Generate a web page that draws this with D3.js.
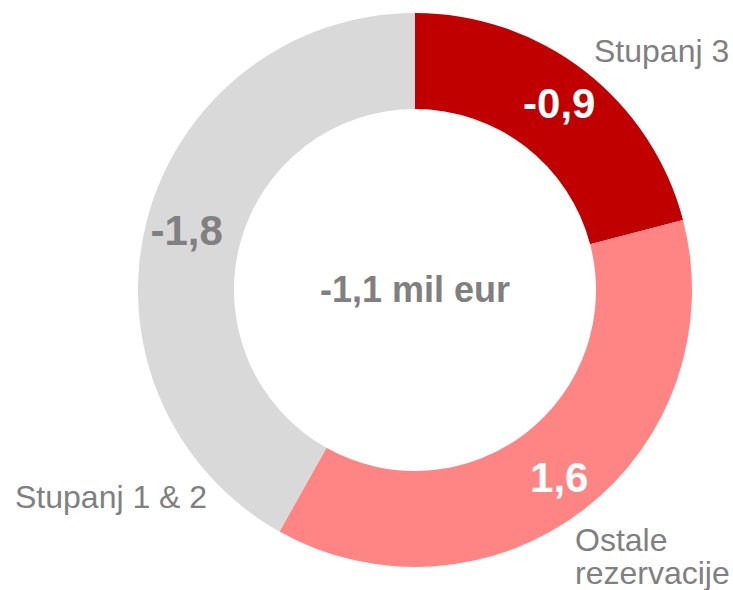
<!DOCTYPE html>
<html>
<head>
<meta charset="utf-8">
<script src="https://cdn.jsdelivr.net/npm/d3@7"></script>
<style>
  body { margin: 0; background: #fff; }
  text { font-family: "Liberation Sans", Arial, sans-serif; }
</style>
</head>
<body>
<div class="chart"></div>
<script>
// data
var categories = ["Stupanj 3", "Ostale rezervacije", "Stupanj 1 & 2"];
var values = [-0.9, 1.6, -1.8];
var totalLabel = "-1,1 mil eur";

var colors = ["#C00000", "#FF8585", "#D9D9D9"];
var valueColors = ["#ffffff", "#ffffff", "#808080"];

var svgWidth = 733;
var svgHeight = 590;
var cx = 415, cy = 290;
var outerR = 277, innerR = 181;

// where the category names sit (relative to centre)
var catPos = [
  { x: 179, y: -228, lines: ["Stupanj 3"] },
  { x: 160, y: 261, lines: ["Ostale", "rezervacije"] },
  { x: -400, y: 218, lines: ["Stupanj 1 & 2"] }
];

var svg = d3.select(".chart")
  .append("svg")
  .attr("width", svgWidth)
  .attr("height", svgHeight);

var g = svg.append("g")
  .attr("transform", `translate(${cx}, ${cy})`);

var slices = categories.map((c, i) => ({ name: c, value: values[i], idx: i }));

var pie = d3.pie()
  .sort(null)
  .value(d => Math.abs(d.value));

var arc = d3.arc()
  .innerRadius(innerR)
  .outerRadius(outerR);

var labelArc = d3.arc()
  .innerRadius(236)
  .outerRadius(236);

var arcs = pie(slices);

g.selectAll("path")
  .data(arcs)
  .enter()
  .append("path")
  .attr("d", arc)
  .attr("fill", d => colors[d.data.idx]);

// value labels inside the ring
g.selectAll(".val")
  .data(arcs)
  .enter()
  .append("text")
  .attr("class", "val")
  .attr("x", d => labelArc.centroid(d)[0])
  .attr("y", d => labelArc.centroid(d)[1])
  .attr("dy", "0.36em")
  .attr("text-anchor", "middle")
  .attr("font-size", 42)
  .attr("font-weight", "bold")
  .attr("fill", d => valueColors[d.data.idx])
  .text(d => d3.format(".1f")(d.data.value).replace("\u2212", "-").replace(".", ","));

// category names
arcs.forEach(function(d) {
  var p = catPos[d.data.idx];
  var t = g.append("text")
    .attr("font-size", 32)
    .attr("fill", "#808080");
  p.lines.forEach(function(line, k) {
    t.append("tspan")
      .attr("x", p.x)
      .attr("y", p.y + k * 33)
      .text(line);
  });
});

// total in the middle
g.append("text")
  .attr("x", 0)
  .attr("y", 12)
  .attr("text-anchor", "middle")
  .attr("font-size", 36)
  .attr("font-weight", "bold")
  .attr("fill", "#808080")
  .text(totalLabel);
</script>
</body>
</html>
